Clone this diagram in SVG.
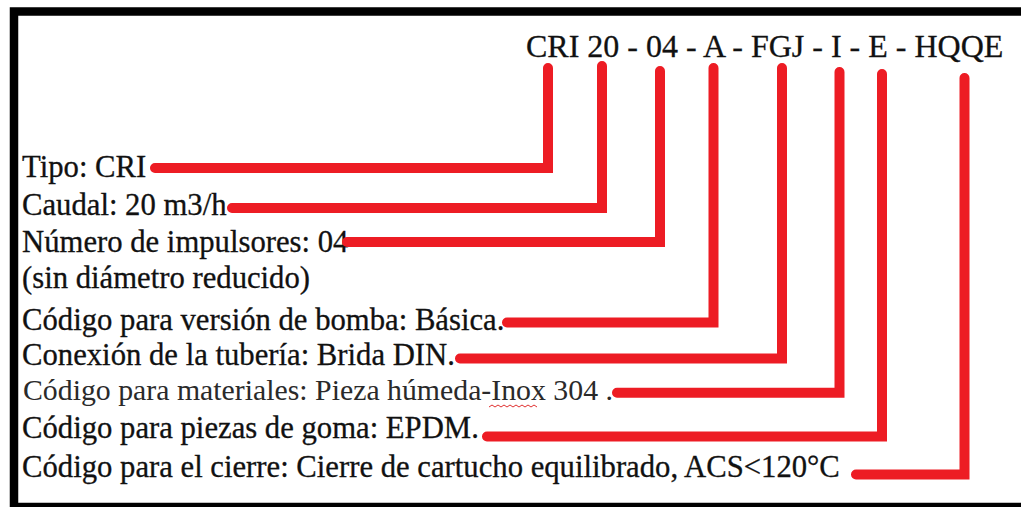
<svg xmlns="http://www.w3.org/2000/svg" width="1021" height="507" viewBox="0 0 1021 507">
<style>
.t{font-family:"Liberation Serif","Times New Roman",serif;font-size:30.7px;fill:#111;stroke:#111;stroke-width:0.3}
.m{font-family:"Liberation Serif","Times New Roman",serif;font-size:29.8px;fill:#2a2a2a}
.code{font-family:"Liberation Serif","Times New Roman",serif;font-size:32px;fill:#111;stroke:#111;stroke-width:0.3}
.c{fill:none;stroke:#ED1C24;stroke-width:10;stroke-linecap:round;stroke-linejoin:miter}
</style>
<rect x="0" y="0" width="1021" height="507" fill="#fff"/>
<rect x="14" y="11.5" width="1030" height="495.5" fill="none" stroke="#000" stroke-width="8.5"/>
<g id="code"><text class="code" x="526" y="57">CRI 20 - 04 - A - FGJ - I - E - HQQE</text></g>
<g id="n1"><text class="t" x="22" y="177">Tipo: CRI</text></g>
<g id="n2"><text class="t" x="22" y="215">Caudal: 20 m3/h</text></g>
<g id="n3"><text class="t" x="22" y="252">Número de impulsores: 04</text><text class="t" x="22" y="288">(sin diámetro reducido)</text></g>
<g id="n4"><text class="t" x="22" y="330">Código para versión de bomba: Básica.</text></g>
<g id="n5"><text class="t" x="22" y="365">Conexión de la tubería: Brida DIN.</text></g>
<g id="n6"><text class="m" x="23" y="400">Código para materiales: Pieza húmeda-Inox 304 .</text><path d="M489,407 l3,-2 3,2 3,-2 3,2 3,-2 3,2 3,-2 3,2 3,-2 3,2 3,-2 3,2 3,-2 3,2 3,-2 3,2" fill="none" stroke="#E03030" stroke-width="1"/></g>
<g id="n7"><text class="t" x="22" y="438">Código para piezas de goma: EPDM.</text></g>
<g id="n8"><text class="t" x="22" y="477">Código para el cierre: Cierre de cartucho equilibrado, ACS&lt;120°C</text></g>
<g id="connectors">
<polyline class="c" points="155,168 548,168 548,68"/>
<polyline class="c" points="232,208 602,208 602,66"/>
<polyline class="c" points="347,242 660,242 660,71"/>
<polyline class="c" points="507,322.5 713.5,322.5 713.5,68"/>
<polyline class="c" points="460,358.5 782,358.5 782,68"/>
<polyline class="c" points="617,392.7 839.5,392.7 839.5,72"/>
<polyline class="c" points="487,436.5 882,436.5 882,74"/>
<polyline class="c" points="856,474.5 964.5,474.5 964.5,78"/>
</g>
</svg>
